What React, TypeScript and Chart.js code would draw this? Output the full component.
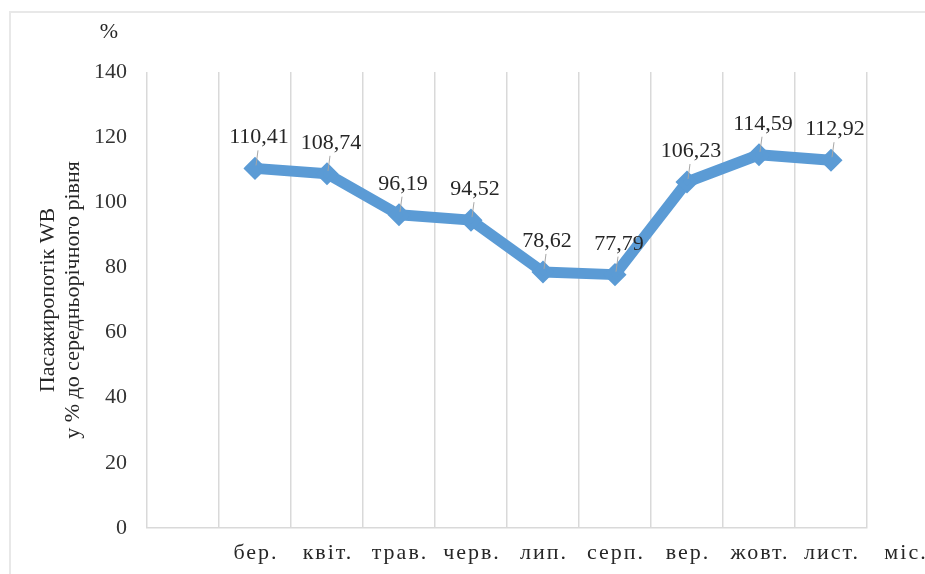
import React, { useEffect, useRef } from "react";
import { Chart, registerables } from "chart.js";

Chart.register(...registerables);

const categories = ["", "бер.", "квіт.", "трав.", "черв.", "лип.", "серп.", "вер.", "жовт.", "лист."];
const values: (number | null)[] = [null, 110.41, 108.74, 96.19, 94.52, 78.62, 77.79, 106.23, 114.59, 112.92];
const valueLabels = ["", "110,41", "108,74", "96,19", "94,52", "78,62", "77,79", "106,23", "114,59", "112,92"];
const yMin = 0;
const yMax = 140;
const yStep = 20;
const yTitleLines = ["Пасажиропотік WB", "у % до середньорічного рівня"];
const yUnit = "%";
const xUnit = "міс.";

const FONT = "'Liberation Serif', 'Times New Roman', serif";
const TEXT = "#262626";
const LINE = "#5b9bd5";

const decorPlugin = {
  id: "decor",
  beforeDraw(chart: any) {
    const ctx = chart.ctx;
    ctx.save();
    ctx.fillStyle = "#ffffff";
    ctx.fillRect(0, 0, chart.width, chart.height);
    ctx.strokeStyle = "#e8e8e8";
    ctx.lineWidth = 2;
    ctx.beginPath();
    ctx.moveTo(10, chart.height);
    ctx.lineTo(10, 12);
    ctx.lineTo(chart.width, 12);
    ctx.stroke();
    ctx.restore();
  },
  afterDatasetsDraw(chart: any) {
    const ctx = chart.ctx;
    const area = chart.chartArea;
    const meta = chart.getDatasetMeta(0);
    ctx.save();
    // leader lines + value labels
    meta.data.forEach((pt: any, i: number) => {
      if (values[i] == null) return;
      const px = pt.x;
      const py = pt.y;
      ctx.strokeStyle = "#a6a6a6";
      ctx.lineWidth = 1;
      ctx.beginPath();
      ctx.moveTo(px + 3, py - 18);
      ctx.lineTo(px + 1, py - 3);
      ctx.stroke();
      ctx.fillStyle = TEXT;
      ctx.font = `22px ${FONT}`;
      ctx.textAlign = "center";
      ctx.textBaseline = "alphabetic";
      ctx.fillText(valueLabels[i], px + 4, py - 25);
    });
    // x category labels with letter spacing
    const xs = chart.scales.x;
    ctx.font = `22px ${FONT}`;
    ctx.fillStyle = TEXT;
    ctx.textAlign = "center";
    ctx.textBaseline = "alphabetic";
    (ctx as any).letterSpacing = "2px";
    categories.forEach((c, i) => {
      if (!c) return;
      ctx.fillText(c, xs.getPixelForValue(i) + 1, area.bottom + 31);
    });
    ctx.fillText(xUnit, area.right + 39, area.bottom + 31);
    (ctx as any).letterSpacing = "0px";
    // % unit
    ctx.fillText(yUnit, area.left - 38, 38);
    // y title (rotated)
    const cy = (area.top + area.bottom) / 2;
    [48, 73].forEach((cx, k) => {
      ctx.save();
      ctx.translate(cx, cy);
      ctx.rotate(-Math.PI / 2);
      ctx.textAlign = "center";
      ctx.textBaseline = "middle";
      ctx.fillText(yTitleLines[k], 0, 0);
      ctx.restore();
    });
    ctx.restore();
  },
};

export default function App() {
  const ref = useRef<HTMLCanvasElement | null>(null);
  useEffect(() => {
    if (!ref.current) return;
    const chart = new Chart(ref.current, {
      type: "line",
      data: {
        labels: categories,
        datasets: [
          {
            data: values,
            borderColor: LINE,
            backgroundColor: LINE,
            borderWidth: 11,
            borderCapStyle: "round",
            borderJoinStyle: "round",
            pointStyle: "rectRot",
            pointRadius: 8,
            pointBorderWidth: 5,
            pointBorderColor: LINE,
            pointBackgroundColor: LINE,
            tension: 0,
            spanGaps: false,
          },
        ],
      },
      options: {
        responsive: false,
        animation: false,
        devicePixelRatio: 1,
        layout: { padding: { left: 0, top: 72, right: 58, bottom: 0 } },
        plugins: { legend: { display: false }, tooltip: { enabled: false } },
        scales: {
          x: {
            offset: true,
            grid: { offset: true, color: "#d9d9d9", lineWidth: 1.5, drawTicks: false },
            border: { color: "#d9d9d9", width: 1.5 },
            ticks: { display: false },
            afterFit: (s: any) => {
              s.height = 46;
            },
          },
          y: {
            min: yMin,
            max: yMax,
            ticks: {
              stepSize: yStep,
              padding: 20,
              color: "#333333",
              font: { family: FONT, size: 22 },
            },
            grid: { display: false, drawTicks: false },
            border: { display: false },
            afterFit: (s: any) => {
              s.width = 147;
            },
          },
        },
      },
      plugins: [decorPlugin],
    });
    return () => chart.destroy();
  }, []);
  return (
    <div style={{ position: "fixed", left: 0, top: 0, width: 925, height: 574, background: "#fff" }}>
      <canvas ref={ref} width={925} height={574} style={{ display: "block" }} />
    </div>
  );
}
